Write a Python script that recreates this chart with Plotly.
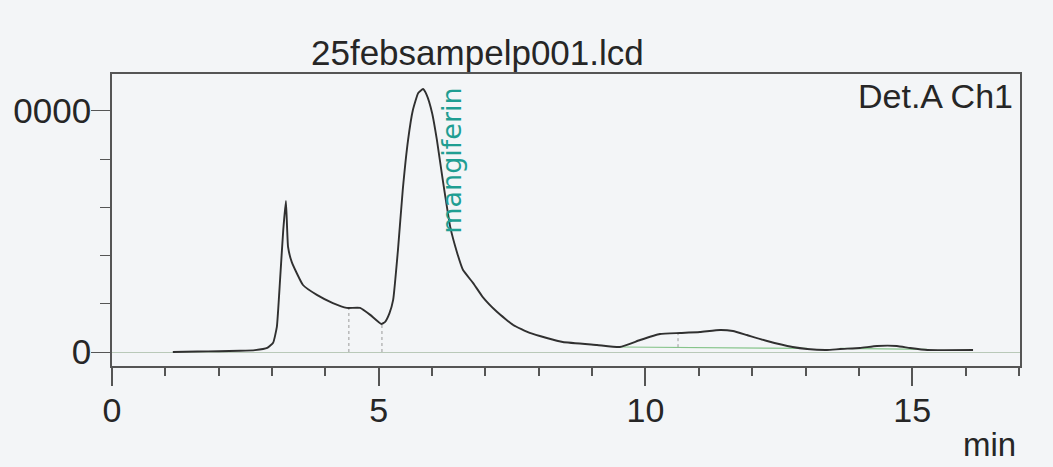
import plotly.graph_objects as go

# ---- data ----
time_min = [1.14, 1.6, 2.0, 2.40, 2.68, 2.91, 3.02, 3.09, 3.15, 3.21, 3.26, 3.30, 3.37, 3.58,
            3.84, 4.14, 4.40, 4.65, 4.84, 5.05, 5.12, 5.20, 5.27, 5.36, 5.45, 5.55, 5.64,
            5.74, 5.83, 5.90, 6.00, 6.09, 6.20, 6.34, 6.47, 6.58, 6.77, 6.95, 7.22, 7.52,
            7.83, 8.15, 8.45, 9.09, 9.52, 9.90, 10.27, 10.65, 11.02, 11.40, 11.64, 11.90,
            12.28, 12.76, 13.03, 13.40, 13.65, 14.02, 14.34, 14.71, 14.96, 15.28, 16.14]
signal = [0, 20, 30, 50, 80, 170, 380, 1040, 2990, 5060, 6270, 4360, 3730, 2780,
          2370, 2030, 1830, 1830, 1540, 1160, 1250, 1600, 2160, 4230, 6720, 8800, 10040,
          10750, 10910, 10660, 9920, 8800, 7140, 5190, 4110, 3400, 2860, 2280, 1660, 1120,
          790, 580, 415, 290, 207, 498, 747, 788, 830, 913, 871, 705,
          456, 207, 124, 83, 124, 166, 249, 249, 166, 83, 80]

# peak separator drop lines (time, low value, curve value)
drop_times = [4.44, 5.06, 10.61]
drop_low = [0, 0, 200]
drop_high = [1830, 1160, 780]

# integration baselines
base1_t = [9.52, 13.03]
base1_v = [207, 150]
base2_t = [13.65, 15.28]
base2_v = [150, 110]

peak_label = "mangiferin"
peak_time = 6.35
peak_label_value = 7925

x_ticks = [0, 5, 10, 15]
y_ticks = [0, 10000]
y_ticktext = ["0", "0000"]   # leading digit cut off in the scanned original
y_minor = [2000, 4000, 6000, 8000]

FONT = "Liberation Sans, Arial"
TXT = "#262626"
BG = "#f3f5f7"

fig = go.Figure()

fig.add_trace(go.Scatter(x=base1_t, y=base1_v, mode="lines",
                         line=dict(color="#86c48a", width=1.2), hoverinfo="skip"))
fig.add_trace(go.Scatter(x=base2_t, y=base2_v, mode="lines",
                         line=dict(color="#86c48a", width=1.2), hoverinfo="skip"))

for t, lo, hi in zip(drop_times, drop_low, drop_high):
    fig.add_trace(go.Scatter(x=[t, t], y=[lo, hi], mode="lines",
                             line=dict(color="#9a9a9a", width=1, dash="dot"),
                             hoverinfo="skip"))

fig.add_trace(go.Scatter(x=time_min, y=signal, mode="lines",
                         line=dict(color="#303030", width=1.9, shape="spline", smoothing=0.4),
                         name="Det.A Ch1"))

fig.update_layout(
    width=1053, height=467,
    margin=dict(l=112, r=33, t=74, b=101),
    paper_bgcolor=BG, plot_bgcolor=BG,
    showlegend=False,
    font=dict(family=FONT, size=34, color=TXT),
    xaxis=dict(range=[0, 17.02], tickmode="array", tickvals=x_ticks,
               ticks="outside", ticklen=18, tickwidth=1.5, tickcolor="#555",
               showline=True, linecolor="#555", linewidth=1.6, mirror=True,
               showgrid=False, zeroline=False, automargin=False,
               tickfont=dict(family=FONT, size=34, color=TXT), ticklabelstandoff=-5,
               minor=dict(ticks="outside", dtick=1, tick0=0, ticklen=8, tickwidth=1.5,
                          tickcolor="#555", showgrid=False)),
    yaxis=dict(range=[-581, 11535], tickmode="array", tickvals=y_ticks, ticktext=y_ticktext,
               ticks="outside", ticklen=19, tickwidth=1.2, tickcolor="#555",
               showline=True, linecolor="#555", linewidth=1.6, mirror=True,
               showgrid=False, zeroline=True, zerolinecolor="#b9c9b9", zerolinewidth=1.2,
               automargin=False,
               tickfont=dict(family=FONT, size=35, color=TXT), ticklabelstandoff=-7,
               minor=dict(ticks="outside", tickmode="array", tickvals=y_minor, ticklen=10,
                          tickwidth=1.2, tickcolor="#555", showgrid=False)),
    annotations=[
        dict(text="25febsampelp001.lcd", xref="paper", yref="paper", x=0.402, y=1.0,
             xanchor="center", yanchor="bottom", showarrow=False,
             font=dict(family=FONT, size=35, color=TXT)),
        dict(text="Det.A Ch1", xref="paper", yref="paper", x=0.9945, y=0.995,
             xanchor="right", yanchor="top", showarrow=False,
             font=dict(family=FONT, size=34, color=TXT)),
        dict(text=peak_label, x=peak_time, y=peak_label_value, xref="x", yref="y",
             textangle=-90, xanchor="center", yanchor="middle", showarrow=False,
             font=dict(family="DejaVu Sans", size=27, color="#1f9e92")),
        dict(text="min", xref="paper", yref="paper", x=0.998, y=-0.2,
             xanchor="right", yanchor="top", showarrow=False,
             font=dict(family=FONT, size=33, color=TXT)),
    ],
)

fig.write_html("out.html")
